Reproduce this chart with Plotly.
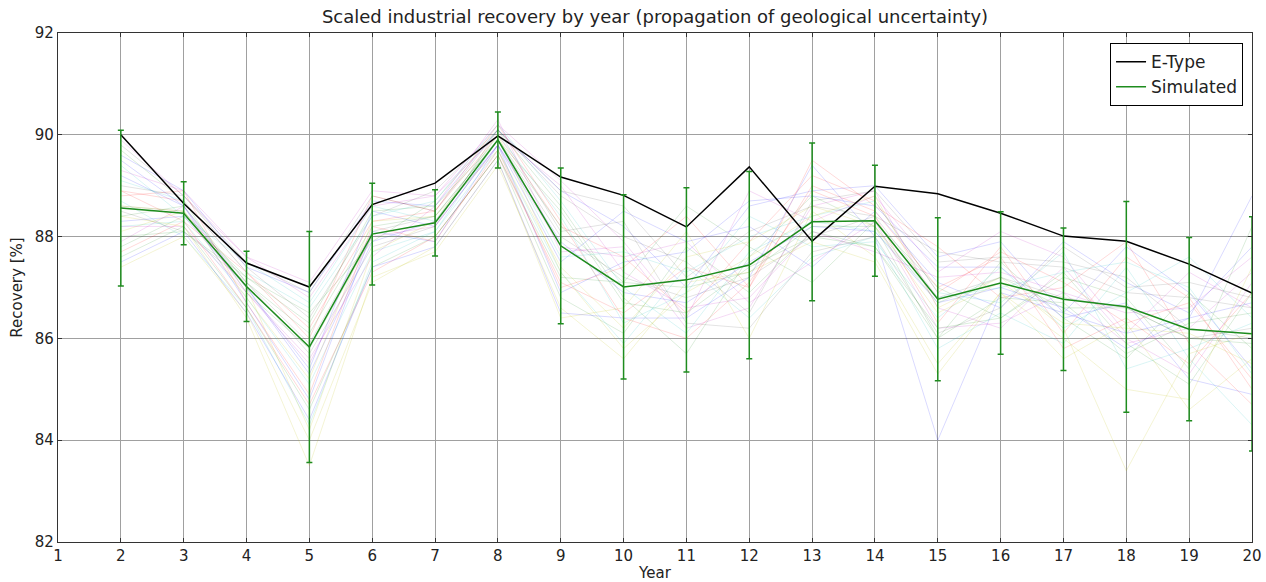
import plotly.graph_objects as go

years = list(range(2, 21))

etype = [90.0, 88.65, 87.48, 87.01, 88.63, 89.05, 89.98, 89.17, 88.81, 88.19,
         89.37, 87.91, 88.99, 88.84, 88.46, 88.01, 87.91, 87.46, 86.89]

sim_mean = [88.56, 88.46, 87.02, 85.83, 88.05, 88.27, 89.90, 87.82, 87.01, 87.15,
            87.44, 88.29, 88.31, 86.77, 87.09, 86.77, 86.62, 86.18, 86.09]

sim_err = [1.53, 0.62, 0.69, 2.27, 1.00, 0.65, 0.55, 1.53, 1.81, 1.81,
           1.84, 1.55, 1.09, 1.60, 1.40, 1.40, 2.07, 1.80, 2.30]

realizations = [
    [89.6, 88.9, 87.4, 86.9, 88.7, 88.6, 90.1, 88.9, 88.2, 87.0, 88.6, 88.9, 89.0, 87.6, 87.9, 86.5, 87.8, 86.9, 85.4],
    [87.6, 88.2, 86.6, 84.6, 87.4, 88.0, 89.6, 86.8, 86.1, 87.8, 86.9, 88.1, 87.8, 86.2, 86.4, 87.3, 85.9, 85.1, 86.9],
    [88.9, 88.7, 87.3, 86.2, 88.3, 88.5, 90.0, 88.2, 87.6, 86.5, 87.9, 89.2, 88.7, 86.9, 87.7, 87.1, 86.3, 86.7, 85.2],
    [88.2, 88.3, 86.8, 85.1, 87.7, 88.1, 89.7, 87.3, 85.9, 87.4, 86.4, 87.6, 88.0, 85.8, 86.5, 85.9, 87.4, 85.6, 84.3],
    [89.9, 88.8, 87.6, 87.1, 88.9, 88.8, 90.2, 89.1, 87.9, 86.4, 88.9, 88.3, 88.8, 87.3, 88.1, 87.6, 86.1, 87.3, 86.6],
    [87.4, 88.0, 86.5, 84.0, 87.1, 87.8, 89.5, 86.4, 86.6, 88.1, 86.0, 88.5, 87.6, 85.5, 86.9, 86.0, 85.0, 84.8, 87.4],
    [88.6, 88.5, 87.1, 85.9, 88.1, 88.4, 89.9, 88.0, 87.2, 86.8, 87.2, 88.0, 88.4, 86.8, 87.2, 86.8, 86.6, 86.0, 86.2],
    [89.2, 88.6, 87.0, 85.4, 88.5, 88.2, 89.8, 87.5, 88.5, 87.9, 88.2, 87.4, 88.5, 87.1, 86.6, 87.9, 87.1, 86.5, 87.8],
    [88.0, 88.1, 87.2, 86.5, 87.9, 88.7, 90.1, 88.6, 86.8, 85.7, 87.6, 88.8, 88.2, 86.0, 87.5, 86.4, 85.6, 86.9, 85.8],
    [88.8, 88.9, 86.7, 84.9, 88.2, 87.9, 89.7, 87.0, 87.4, 88.4, 87.0, 89.5, 88.6, 87.8, 86.8, 87.0, 87.9, 85.9, 84.7],
    [89.4, 88.4, 87.5, 86.7, 88.6, 88.3, 90.0, 88.4, 86.3, 86.9, 88.4, 87.8, 87.9, 86.4, 87.4, 86.2, 86.9, 87.6, 86.4],
    [87.9, 88.6, 86.9, 85.6, 87.6, 88.6, 90.3, 87.7, 87.8, 86.2, 86.6, 88.6, 88.9, 86.6, 86.2, 87.4, 86.0, 85.3, 87.1],
    [88.4, 88.2, 86.4, 83.5, 87.2, 87.7, 89.4, 86.6, 85.6, 87.1, 87.3, 87.9, 87.5, 85.3, 86.9, 85.6, 86.3, 84.6, 85.6],
    [89.0, 88.8, 87.4, 86.4, 88.4, 88.9, 90.1, 88.8, 88.0, 87.5, 86.5, 88.7, 88.9, 87.5, 87.6, 87.5, 87.2, 86.2, 86.0],
    [88.3, 88.4, 87.0, 85.3, 87.9, 88.3, 89.8, 87.9, 86.9, 86.7, 87.5, 88.2, 88.1, 86.7, 87.0, 86.6, 85.8, 86.4, 86.7],
    [89.7, 88.7, 86.9, 85.8, 88.0, 88.0, 89.6, 87.2, 87.1, 88.6, 87.8, 87.1, 88.3, 87.0, 86.4, 87.2, 86.8, 85.4, 88.2],
    [87.7, 88.3, 87.3, 86.0, 88.8, 88.5, 90.2, 88.3, 86.4, 86.0, 87.1, 88.9, 88.4, 86.3, 87.8, 86.1, 87.6, 86.8, 85.0],
    [88.7, 88.0, 86.6, 84.3, 87.5, 88.1, 89.9, 87.6, 87.7, 87.3, 88.0, 88.4, 88.7, 86.9, 86.7, 87.7, 85.4, 85.8, 86.3],
    [89.3, 88.9, 87.6, 86.8, 88.6, 88.8, 90.0, 89.0, 87.3, 86.6, 86.8, 88.1, 87.7, 87.2, 87.3, 86.9, 86.5, 86.6, 87.6],
    [88.1, 88.5, 86.8, 85.2, 88.3, 88.4, 89.7, 87.4, 86.2, 87.6, 87.9, 88.6, 88.2, 86.5, 87.1, 86.3, 86.2, 86.1, 85.5],
    [88.5, 88.1, 87.1, 85.7, 87.8, 88.2, 90.1, 88.1, 88.3, 86.3, 86.2, 87.7, 88.0, 86.1, 86.6, 87.8, 87.0, 87.1, 86.8],
    [89.5, 88.6, 86.7, 84.8, 88.1, 87.9, 89.8, 86.9, 87.5, 87.7, 88.7, 88.8, 88.6, 87.4, 87.4, 86.4, 86.7, 85.2, 84.9],
    [87.8, 88.4, 87.2, 86.3, 88.5, 88.6, 89.9, 88.5, 86.7, 86.5, 87.4, 88.0, 87.8, 86.0, 86.8, 86.7, 85.7, 86.3, 86.5],
    [88.9, 88.3, 86.6, 84.7, 87.3, 88.0, 89.6, 87.1, 86.5, 87.4, 87.0, 89.0, 88.5, 87.0, 87.6, 85.8, 86.4, 85.5, 86.9],
    [89.1, 88.7, 87.3, 86.6, 88.4, 88.7, 90.2, 88.7, 87.0, 86.1, 87.7, 88.3, 88.1, 86.8, 87.0, 87.3, 87.5, 87.0, 85.3],
    [88.2, 88.2, 86.9, 85.5, 88.0, 88.2, 89.8, 87.8, 87.6, 87.9, 86.7, 87.5, 88.3, 86.2, 86.3, 86.9, 85.9, 86.2, 87.3],
    [88.6, 88.5, 87.0, 84.2, 87.7, 88.3, 90.0, 87.3, 85.8, 86.9, 87.6, 88.4, 88.8, 86.6, 87.2, 86.2, 83.4, 85.7, 86.1],
    [89.8, 88.8, 87.5, 86.9, 88.8, 88.5, 90.1, 88.9, 88.6, 87.2, 88.1, 88.6, 88.4, 87.7, 87.5, 87.4, 86.9, 86.8, 86.6],
    [87.5, 88.1, 86.5, 84.4, 87.4, 87.8, 89.5, 86.5, 86.4, 86.4, 87.2, 89.4, 88.0, 84.0, 86.9, 86.5, 86.1, 86.4, 88.8],
    [88.4, 88.6, 87.1, 86.1, 88.2, 88.4, 89.9, 88.2, 87.1, 87.0, 87.3, 88.2, 88.2, 86.7, 87.2, 86.6, 86.6, 86.0, 85.9],
]

real_colors = ["rgba(0,0,255,0.15)", "rgba(0,128,0,0.14)", "rgba(255,0,0,0.15)",
               "rgba(0,191,191,0.15)", "rgba(191,0,191,0.15)", "rgba(191,191,0,0.17)",
               "rgba(0,0,0,0.11)"]

x_ticks = list(range(1, 21))
y_ticks = [82, 84, 86, 88, 90, 92]

fig = go.Figure()

for i, r in enumerate(realizations):
    fig.add_trace(go.Scatter(
        x=years, y=r, mode="lines",
        line=dict(color=real_colors[i % len(real_colors)], width=1),
        showlegend=False, hoverinfo="skip"))

fig.add_trace(go.Scatter(
    x=years, y=etype, mode="lines", name="E-Type",
    line=dict(color="black", width=1.5)))

fig.add_trace(go.Scatter(
    x=years, y=sim_mean, mode="lines", name="Simulated",
    line=dict(color="#1e8c1e", width=1.5),
    error_y=dict(type="data", array=sim_err, visible=True,
                 color="#1e8c1e", thickness=1.5, width=3)))

font = "DejaVu Sans, Liberation Sans, sans-serif"

fig.update_layout(
    width=1266, height=582,
    margin=dict(l=58, r=14, t=33, b=40),
    paper_bgcolor="white", plot_bgcolor="white",
    font=dict(family=font, size=15, color="#222"),
    title=dict(text="Scaled industrial recovery by year (propagation of geological uncertainty)",
               x=0.5, xref="paper", xanchor="center", y=0.971, yanchor="middle",
               font=dict(size=18, color="#222")),
    legend=dict(x=0.9925, y=0.98, xanchor="right", yanchor="top",
                bgcolor="white", bordercolor="black", borderwidth=1,
                font=dict(size=17, color="#222"), tracegroupgap=0),
    xaxis=dict(range=[1, 20], tickvals=x_ticks, ticktext=[str(v) for v in x_ticks],
               showgrid=True, gridcolor="#a0a0a0", gridwidth=1,
               showline=True, linecolor="#333", linewidth=1.2, mirror="ticks",
               ticks="inside", ticklen=4, tickcolor="#333", zeroline=False,
               automargin=False, tickfont=dict(size=15),
               title=dict(text="Year", standoff=3, font=dict(size=15))),
    yaxis=dict(range=[82, 92], tickvals=y_ticks, ticktext=[str(v) for v in y_ticks],
               showgrid=True, gridcolor="#a0a0a0", gridwidth=1,
               showline=True, linecolor="#333", linewidth=1.2, mirror="ticks",
               ticks="inside", ticklen=4, tickcolor="#333", zeroline=False,
               automargin=False, tickfont=dict(size=15),
               title=dict(text="Recovery [%]", standoff=8, font=dict(size=15))),
)

fig.write_html("out.html")
